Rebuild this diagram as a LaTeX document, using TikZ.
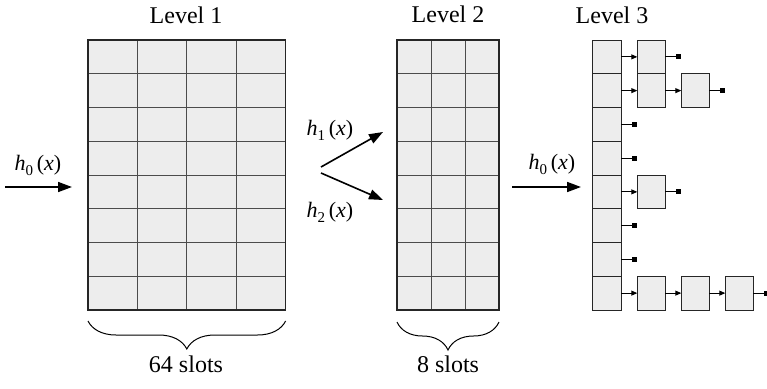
\documentclass[tikz,border=0pt]{standalone}
\usepackage{fontspec}
\setmainfont{Liberation Serif}
\newfontfamily\timesfont{Liberation Serif}
\usetikzlibrary{arrows.meta,decorations.pathreplacing,positioning}
\tikzset{every picture/.style={line width=0.75pt}}
\tikzset{
  slot/.style={draw=black!70, fill=black!7, line width=0.7pt, inner sep=0pt, outer sep=0pt, minimum height=33.75pt},
  chainbox/.style={slot, draw=black!85, line width=1pt, minimum width=28pt},
  gridframe/.style={draw=black!85, line width=1.1pt},
  hasharrow/.style={line width=1.6pt, -{Triangle[length=14pt,width=10pt]}},
  link/.style={line width=1pt, -{Triangle[length=6pt,width=5pt]}},
  nil/.style={line width=1pt, -{Square[length=5pt,width=5pt]}},
  lbl/.style={font=\timesfont\fontsize{24}{28}\selectfont},
  fn/.style={font=\timesfont\fontsize{22}{26}\selectfont},
  slotbrace/.style={decorate, decoration={brace, mirror, amplitude=28pt}, line width=1pt}
}

\begin{document}
\begin{tikzpicture}[x=1pt, y=-1pt]
    \useasboundingbox (0,0) rectangle (767,388);

    % Level 1: 8 x 4 slots
    \foreach \r in {0,...,7}
        \foreach \c in {0,...,3}
            \node[slot, minimum width=49.4pt] (a-\r-\c) at ({112.7+49.4*\c},{56.875+33.75*\r}) {};
    \draw[gridframe] (a-0-0.north west) rectangle (a-7-3.south east);
    \node[lbl] (lev1) at (186,15) {Level 1};

    % Level 2: 8 x 3 slots
    \foreach \r in {0,...,7}
        \foreach \c in {0,...,2}
            \node[slot, minimum width=34pt] (b-\r-\c) at ({414+34*\c},{56.875+33.75*\r}) {};
    \draw[gridframe] (b-0-0.north west) rectangle (b-7-2.south east);
    \node[lbl] (lev2) at (448,14) {Level 2};

    % Level 3: buckets with chains
    \foreach \r in {0,...,7}
        \node[chainbox, minimum width=28.6pt] (c-\r) at (607,{56.875+33.75*\r}) {};
    \node[lbl] (lev3) at (612,15) {Level 3};

    \node[chainbox, right=16pt of c-0] (c-0-1) {};
    \node[chainbox, right=16pt of c-1] (c-1-1) {};
    \node[chainbox, right=16pt of c-1-1] (c-1-2) {};
    \node[chainbox, right=16pt of c-4] (c-4-1) {};
    \node[chainbox, right=16pt of c-7] (c-7-1) {};
    \node[chainbox, right=16pt of c-7-1] (c-7-2) {};
    \node[chainbox, right=16pt of c-7-2] (c-7-3) {};

    \draw[link] (c-0) -- (c-0-1);
    \draw[link] (c-1) -- (c-1-1);
    \draw[link] (c-1-1) -- (c-1-2);
    \draw[link] (c-4) -- (c-4-1);
    \draw[link] (c-7) -- (c-7-1);
    \draw[link] (c-7-1) -- (c-7-2);
    \draw[link] (c-7-2) -- (c-7-3);

    % chain ends
    \foreach \n in {c-0-1,c-1-2,c-2,c-3,c-4-1,c-5,c-6,c-7-3} {
        \coordinate[right=16pt of \n.east] (end-\n);
        \draw[nil] (\n) -- (end-\n);
    }

    % hash functions
    \coordinate (in0) at (5,187);
    \coordinate (in1) at (72,187);
    \draw[hasharrow] (in0) -- (in1);
    \node[fn] (h0a) at (38,165) {\textit{h}\raisebox{-5pt}{\fontsize{15}{17}\selectfont 0}\,(\textit{x})};

    \coordinate (up0) at (321,167);
    \coordinate (up1) at (383,132);
    \draw[hasharrow] (up0) -- (up1);
    \node[fn] (h1) at (330,130) {\textit{h}\raisebox{-5pt}{\fontsize{15}{17}\selectfont 1}\,(\textit{x})};

    \coordinate (dn0) at (321,173);
    \coordinate (dn1) at (383,200);
    \draw[hasharrow] (dn0) -- (dn1);
    \node[fn] (h2) at (330,212) {\textit{h}\raisebox{-5pt}{\fontsize{15}{17}\selectfont 2}\,(\textit{x})};

    \coordinate (out0) at (512,187);
    \coordinate (out1) at (581,187);
    \draw[hasharrow] (out0) -- (out1);
    \node[fn] (h0b) at (552,164) {\textit{h}\raisebox{-5pt}{\fontsize{15}{17}\selectfont 0}\,(\textit{x})};

    % slot counts
    \draw[slotbrace] ([yshift=-11pt]a-7-0.south west) -- ([yshift=-11pt]a-7-3.south east);
    \node[lbl] (n64) at (186,364) {64 slots};
    \draw[slotbrace] ([yshift=-12pt]b-7-0.south west) -- ([yshift=-12pt]b-7-2.south east);
    \node[lbl] (n8) at (448,364) {8 slots};
\end{tikzpicture}
\end{document}
